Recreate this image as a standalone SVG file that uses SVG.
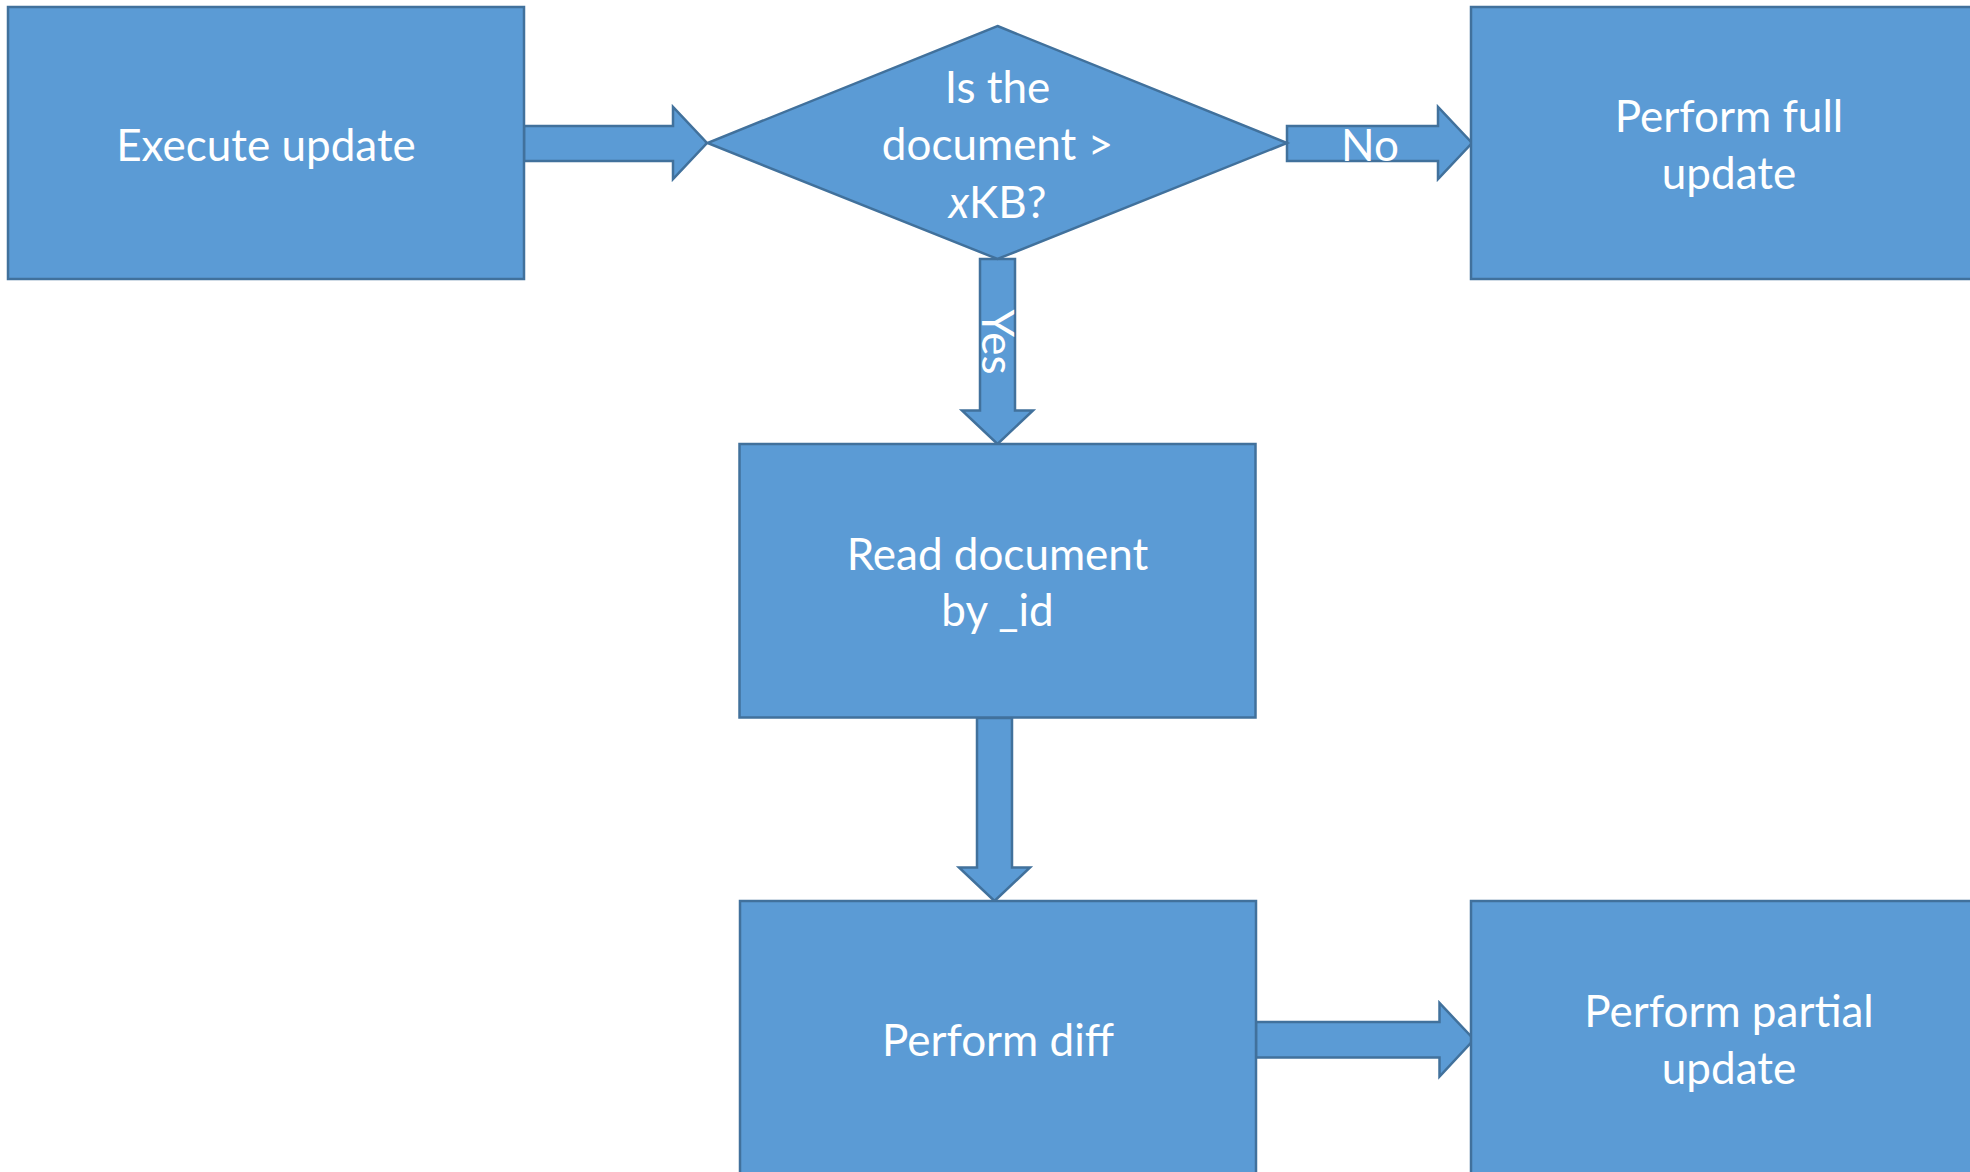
<svg xmlns="http://www.w3.org/2000/svg" width="1970" height="1172" viewBox="0 0 1970 1172">
  <style>
    .shape { fill: #5B9BD5; stroke: #41719C; stroke-width: 2.5; stroke-linejoin: miter; }
    .label { font-family: Lato, "Open Sans", "Liberation Sans", sans-serif; font-size: 44px; fill: #FFFFFF; text-anchor: middle; }
  </style>
  <rect width="1970" height="1172" fill="#FFFFFF"/>

  <!-- block arrows between steps -->
  <g id="connectors">
    <polygon id="exec-to-decision" class="shape" points="524,126 673,126 673,107 707,143 673,179 673,161 524,161"/>
    <polygon id="decision-no" class="shape" points="1287,126 1438,126 1438,107 1472,143 1438,179 1438,161 1287,161"/>
    <text class="label" x="1370" y="161">No</text>
    <polygon id="decision-yes" class="shape" points="980,259 1015,259 1015,410.5 1033,410.5 997.5,444 962,410.5 980,410.5"/>
    <text class="label" font-size="42" transform="translate(982,342) rotate(90)" x="0" y="0">Yes</text>
    <polygon id="read-to-diff" class="shape" points="977,718 1012,718 1012,867.5 1030,867.5 994.5,901 959,867.5 977,867.5"/>
    <polygon id="diff-to-partial" class="shape" points="1256,1022 1439.5,1022 1439.5,1003 1474,1039.5 1439.5,1076.5 1439.5,1057.5 1256,1057.5"/>
  </g>

  <g id="execute-update">
    <rect class="shape" x="8" y="7" width="516" height="272"/>
    <text class="label" x="266" y="161">Execute update</text>
  </g>

  <g id="size-decision">
    <polygon class="shape" points="997.5,26 1287,143 997.5,259 707.5,143"/>
    <text class="label" x="997.5" y="103">Is the</text>
    <text class="label" x="997.5" y="160">document &gt;</text>
    <text class="label" x="997.5" y="218"><tspan font-style="italic">x</tspan>KB?</text>
  </g>

  <g id="full-update">
    <rect class="shape" x="1471" y="7" width="516" height="272"/>
    <text class="label" x="1729" y="132">Perform full</text>
    <text class="label" x="1729" y="189">update</text>
  </g>

  <g id="read-document">
    <rect class="shape" x="739.5" y="444" width="516" height="273.5"/>
    <text class="label" x="997.5" y="570">Read document</text>
    <text class="label" x="997.5" y="626">by _id</text>
  </g>

  <g id="perform-diff">
    <rect class="shape" x="740" y="901" width="516" height="280"/>
    <text class="label" x="998" y="1056">Perform diff</text>
  </g>

  <g id="partial-update">
    <rect class="shape" x="1471" y="901" width="516" height="280"/>
    <text class="label" x="1729" y="1027">Perform partial</text>
    <text class="label" x="1729" y="1084">update</text>
  </g>
</svg>
